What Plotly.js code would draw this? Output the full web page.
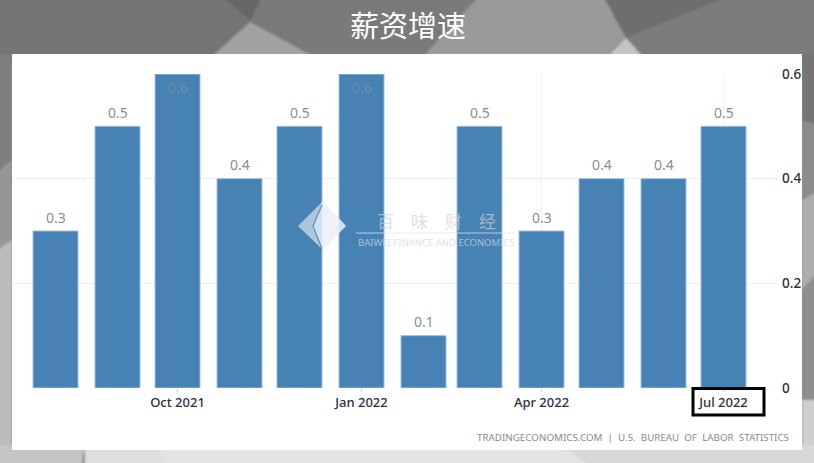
<!DOCTYPE html>
<html><head><meta charset="utf-8">
<script src="https://cdn.plot.ly/plotly-3.0.1.min.js"></script>
<style>
html,body{margin:0;padding:0;width:814px;height:463px;overflow:hidden;background:#999}
#bg{position:absolute;left:0;top:0}
#chart{position:absolute;left:0;top:0;width:814px;height:463px}
</style></head><body>
<svg id="bg" width="814" height="463" viewBox="0 0 814 463">
<defs><filter id="soft" x="-5%" y="-5%" width="110%" height="110%"><feGaussianBlur stdDeviation="1.2"/></filter></defs>
<g filter="url(#soft)">
<rect x="-10" y="-10" width="834" height="483" fill="#8c8c8c"/>
<polygon points="-10,-10 265,-10 250,22 208,60 -10,60" fill="#757575"/>
<polygon points="215,-10 265,-10 252,22" fill="#666666"/>
<polygon points="250,22 208,60 320,60" fill="#a2a2a2"/>
<polygon points="250,22 265,-10 485,-10 420,60 320,60" fill="#7a7a7a"/>
<polygon points="485,-10 600,-10 626,38 600,60 420,60" fill="#9a9a9a"/>
<polygon points="600,-10 745,-10 626,38" fill="#6e6e6e"/>
<polygon points="745,-10 824,-10 824,60 640,60 626,38" fill="#7c7c7c"/>
<polygon points="626,38 604,60 646,60" fill="#c4c4c4"/>
<polygon points="-10,54 12,54 12,160 -10,178" fill="#7e7e7e"/>
<polygon points="-10,178 12,160 12,240 -10,255" fill="#969696"/>
<polygon points="-10,255 12,240 12,450 -10,473" fill="#bcbcbc"/>
<polygon points="802,54 824,54 824,128 802,120" fill="#747474"/>
<polygon points="802,120 824,128 824,188 802,200" fill="#8c8c8c"/>
<polygon points="802,200 824,188 824,265 802,290" fill="#aeaeae"/>
<polygon points="802,290 824,265 824,400 802,400" fill="#8e8e8e"/>
<polygon points="802,400 824,400 824,473 802,473" fill="#cfcfcf"/>
<polygon points="-10,445 85,445 80,473 -10,473" fill="#c4c4c4"/>
<polygon points="85,445 824,445 824,473 85,473" fill="#dfdfdf"/>
<polygon points="160,445 824,445 824,473 165,473" fill="#e4e4e4"/>
<polygon points="560,445 824,445 824,473 600,473" fill="#d8d8d8"/>
</g>
<rect x="12" y="54" width="790" height="396" fill="#ffffff"/>
</svg>
<div id="chart"></div>
<script>
var titleText = "薪资增速";
var months = ["2021-08-01","2021-09-01","2021-10-01","2021-11-01","2021-12-01","2022-01-01","2022-02-01","2022-03-01","2022-04-01","2022-05-01","2022-06-01","2022-07-01"];
var wageGrowth = [0.3,0.5,0.6,0.4,0.5,0.6,0.1,0.5,0.3,0.4,0.4,0.5];
var xTickVals = ["2021-10-01","2022-01-01","2022-04-01","2022-07-01"];
var xTickText = ["Oct 2021","Jan 2022","Apr 2022","Jul 2022"];
var yTickVals = [0,0.2,0.4,0.6];
var yTickText = ["0","0.2","0.4","0.6"];
var sourceText = "TRADINGECONOMICS.COM  |  U.S.  BUREAU  OF  LABOR  STATISTICS";
var wmCn = "百\u3000味\u3000财\u3000经";
var wmEn = "BAIWEI FINANCE AND ECONOMICS";

var W=814,H=463,L=12,R=778,T=74,B=388;
function px(x){return (x-L)/(R-L);}
function py(y){return (B-y)/(B-T);}
function path(pts,open){return pts.map(function(p,i){return (i?"L":"M")+px(p[0])+","+py(p[1]);}).join(" ")+(open?"":" Z");}
function box(x0,y0,x1,y1,extra){return Object.assign({type:"rect",xref:"paper",yref:"paper",x0:px(x0),x1:px(x1),y0:py(y0),y1:py(y1)},extra);}

var font="'Noto Sans', sans-serif";
var trace={
  type:"bar",x:months,y:wageGrowth,
  width:22.5*86400000,
  marker:{color:"#4682b4",line:{width:1,color:"#9dbdd9"}},
  hoverinfo:"skip"
};
var valueLabels=months.map(function(m,i){
  var v=wageGrowth[i], top=v>=0.6;
  return {xref:"x",yref:"y",x:m,y:v,xanchor:"center",yanchor:"middle",yshift:top?-13:14,showarrow:false,
    text:v.toFixed(1),font:{family:font,size:14,color:top?"#6f8dab":"#8d8d8d"}};
});
var layout={
  width:W,height:H,
  margin:{l:L,r:W-R,t:T,b:H-B,pad:0},
  paper_bgcolor:"rgba(0,0,0,0)",plot_bgcolor:"rgba(0,0,0,0)",
  showlegend:false,
  title:{text:titleText,x:408/W,xanchor:"center",y:1-27/H,yanchor:"middle",font:{family:"'Noto Sans CJK SC', sans-serif",size:29,color:"#ffffff"}},
  xaxis:{type:"date",range:["2021-07-10 06:00","2022-07-28 06:00"],tickmode:"array",tickvals:xTickVals,ticktext:xTickText,
    showgrid:true,gridcolor:"#e6e6e6",griddash:"1px,1px",gridwidth:1,ticks:"outside",ticklen:3,tickcolor:"#d0d0d0",
    tickfont:{family:font,size:13,color:"#2e2e40",weight:500},ticklabelstandoff:-1,showline:false,zeroline:false,fixedrange:true},
  yaxis:{side:"right",range:[0,0.6],tickmode:"array",tickvals:yTickVals,ticktext:yTickText,
    showgrid:true,gridcolor:"#e2e2e2",griddash:"1px,1px",gridwidth:1,ticks:"",ticklabelstandoff:3,
    tickfont:{family:font,size:13.5,color:"#2e2e40",weight:500},zeroline:false,showline:false,fixedrange:true},
  shapes:[
    {type:"path",xref:"paper",yref:"paper",path:path([[298,226],[323,201],[313,226],[323,250]]),fillcolor:"rgba(255,255,255,0.55)",line:{width:0},layer:"above"},
    {type:"path",xref:"paper",yref:"paper",path:path([[323,201],[346,226],[323,250],[313,226]]),fillcolor:"rgba(235,240,246,0.85)",line:{width:0},layer:"above"},
    {type:"path",xref:"paper",yref:"paper",path:path([[322,205],[313,226],[322,249]],true),fillcolor:"rgba(0,0,0,0)",line:{color:"rgba(70,130,180,0.8)",width:1.2},layer:"above"},
    {type:"line",xref:"paper",yref:"paper",x0:px(356),x1:px(515),y0:py(233),y1:py(233),line:{color:"rgba(225,230,236,0.75)",width:1},layer:"above"},
    box(693,388.5,764,415,{line:{color:"#000000",width:3},fillcolor:"rgba(0,0,0,0)",layer:"above"})
  ],
  annotations:valueLabels.concat([
    {xref:"paper",yref:"paper",x:px(791),y:py(437),xanchor:"right",yanchor:"middle",showarrow:false,text:sourceText,font:{family:font,size:9.8,color:"#8a8a8a"}},
    {xref:"paper",yref:"paper",x:px(436),y:py(220),xanchor:"center",yanchor:"middle",showarrow:false,text:wmCn,font:{family:"'Noto Sans CJK SC', sans-serif",size:17,color:"rgba(205,210,216,0.7)"}},
    {xref:"paper",yref:"paper",x:px(436.5),y:py(242),xanchor:"center",yanchor:"middle",showarrow:false,text:wmEn,font:{family:font,size:9.5,color:"rgba(205,215,228,0.75)"}}
  ])
};
Plotly.newPlot("chart",[trace],layout,{displayModeBar:false,staticPlot:true});
</script>
</body></html>
